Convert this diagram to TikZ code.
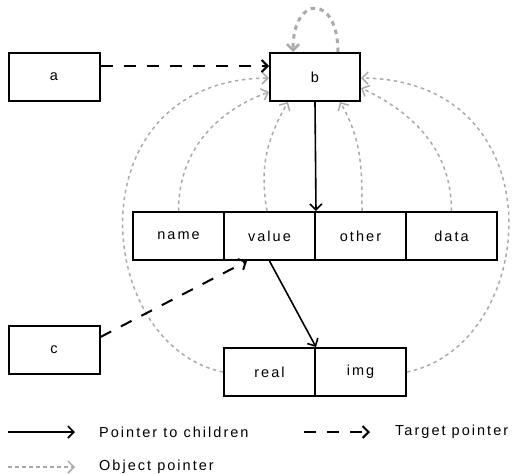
\documentclass[tikz,border=0pt]{standalone}
\usepackage{fontspec}
\setmainfont[LetterSpace=14]{Liberation Sans}
\usetikzlibrary{arrows.meta}
\definecolor{ptrgray}{HTML}{AAAAAA}
\begin{document}
\begin{tikzpicture}[x=1pt,y=-1pt,
  box/.style={draw=black,line width=2pt,rectangle,minimum width=91pt,minimum height=48pt,inner sep=0pt,font=\fontsize{14.5}{16}\selectfont},
  child/.style={draw=black,line width=1.6pt,-{Straight Barb[length=6pt,width=12pt,line width=1.6pt]}},
  target/.style={draw=black,line width=2pt,dash pattern=on 12pt off 11pt,-{Straight Barb[length=6pt,width=12pt,line width=2pt]}},
  objptr/.style={draw=ptrgray,line width=1.5pt,dash pattern=on 3.5pt off 3.5pt,-{Straight Barb[length=6pt,width=12pt,line width=1.5pt]}},
  selfptr/.style={draw=ptrgray,line width=3pt,dash pattern=on 4.5pt off 4.5pt,-{Straight Barb[length=6pt,width=12pt,line width=2.6pt]}},
  legtext/.style={anchor=west,inner sep=0pt,font=\fontsize{14.5}{16}\selectfont}]
\useasboundingbox (0,0) rectangle (512,474);
% nodes
\node[box] (a) at (54,77) {a};
\node[box,minimum width=90pt] (b) at (315,77) {b};
\node[box] (c) at (54,349.5) {c};
\node[box] (name) at (178.5,236) {name};
\node[box] (value) at (269.5,236) {value};
\node[box] (other) at (360.5,236) {other};
\node[box] (data) at (451.5,236) {data};
\node[box] (real) at (269.5,372) {real};
\node[box] (img) at (360.5,372) {img};
% object pointers
\draw[selfptr] ([xshift=23pt]b.north) to[out=90,in=90,looseness=3.3] ([xshift=-22pt]b.north);
\draw[objptr] (real.west) .. controls (92,345) and (72,80) .. ([yshift=-1pt]b.west);
\draw[objptr] (img.east) .. controls (540,345) and (560,80) .. ([yshift=-1pt]b.east);
\draw[objptr] (name.north) to[out=90,in=200] ([yshift=-15pt]b.west);
\draw[objptr] ([xshift=-2.5pt]value.north) to[out=100,in=-120] ([xshift=-27pt]b.south);
\draw[objptr] ([xshift=1.5pt]other.north) to[out=90,in=-60] ([xshift=25pt]b.south);
\draw[objptr] (data.north) to[out=90,in=-25] ([yshift=-11pt]b.east);
% children
\draw[child] (b.south) -- (value.north east);
\draw[child] (value.south) -- (real.north east);
% targets
\draw[target] ([yshift=11pt]a.east) -- ([yshift=11pt]b.west);
\draw[target] ([yshift=12.5pt]c.east) -- ([xshift=-22.5pt]value.south);
% legend
\coordinate (l1a) at (8,432); \coordinate (l1b) at (75,432);
\coordinate (l2a) at (304,432); \coordinate (l2b) at (370,432);
\coordinate (l3a) at (8,467); \coordinate (l3b) at (75,467);
\draw[child] (l1a) -- (l1b);
\draw[target,dash pattern=on 12pt off 11pt] (l2a) -- (l2b);
\draw[objptr] (l3a) -- (l3b);
\node[legtext] (t1) at (99,432) {Pointer to children};
\node[legtext] (t2) at (395,432) {Target pointer};
\node[legtext] (t3) at (99,467) {Object pointer};
\end{tikzpicture}
\end{document}
